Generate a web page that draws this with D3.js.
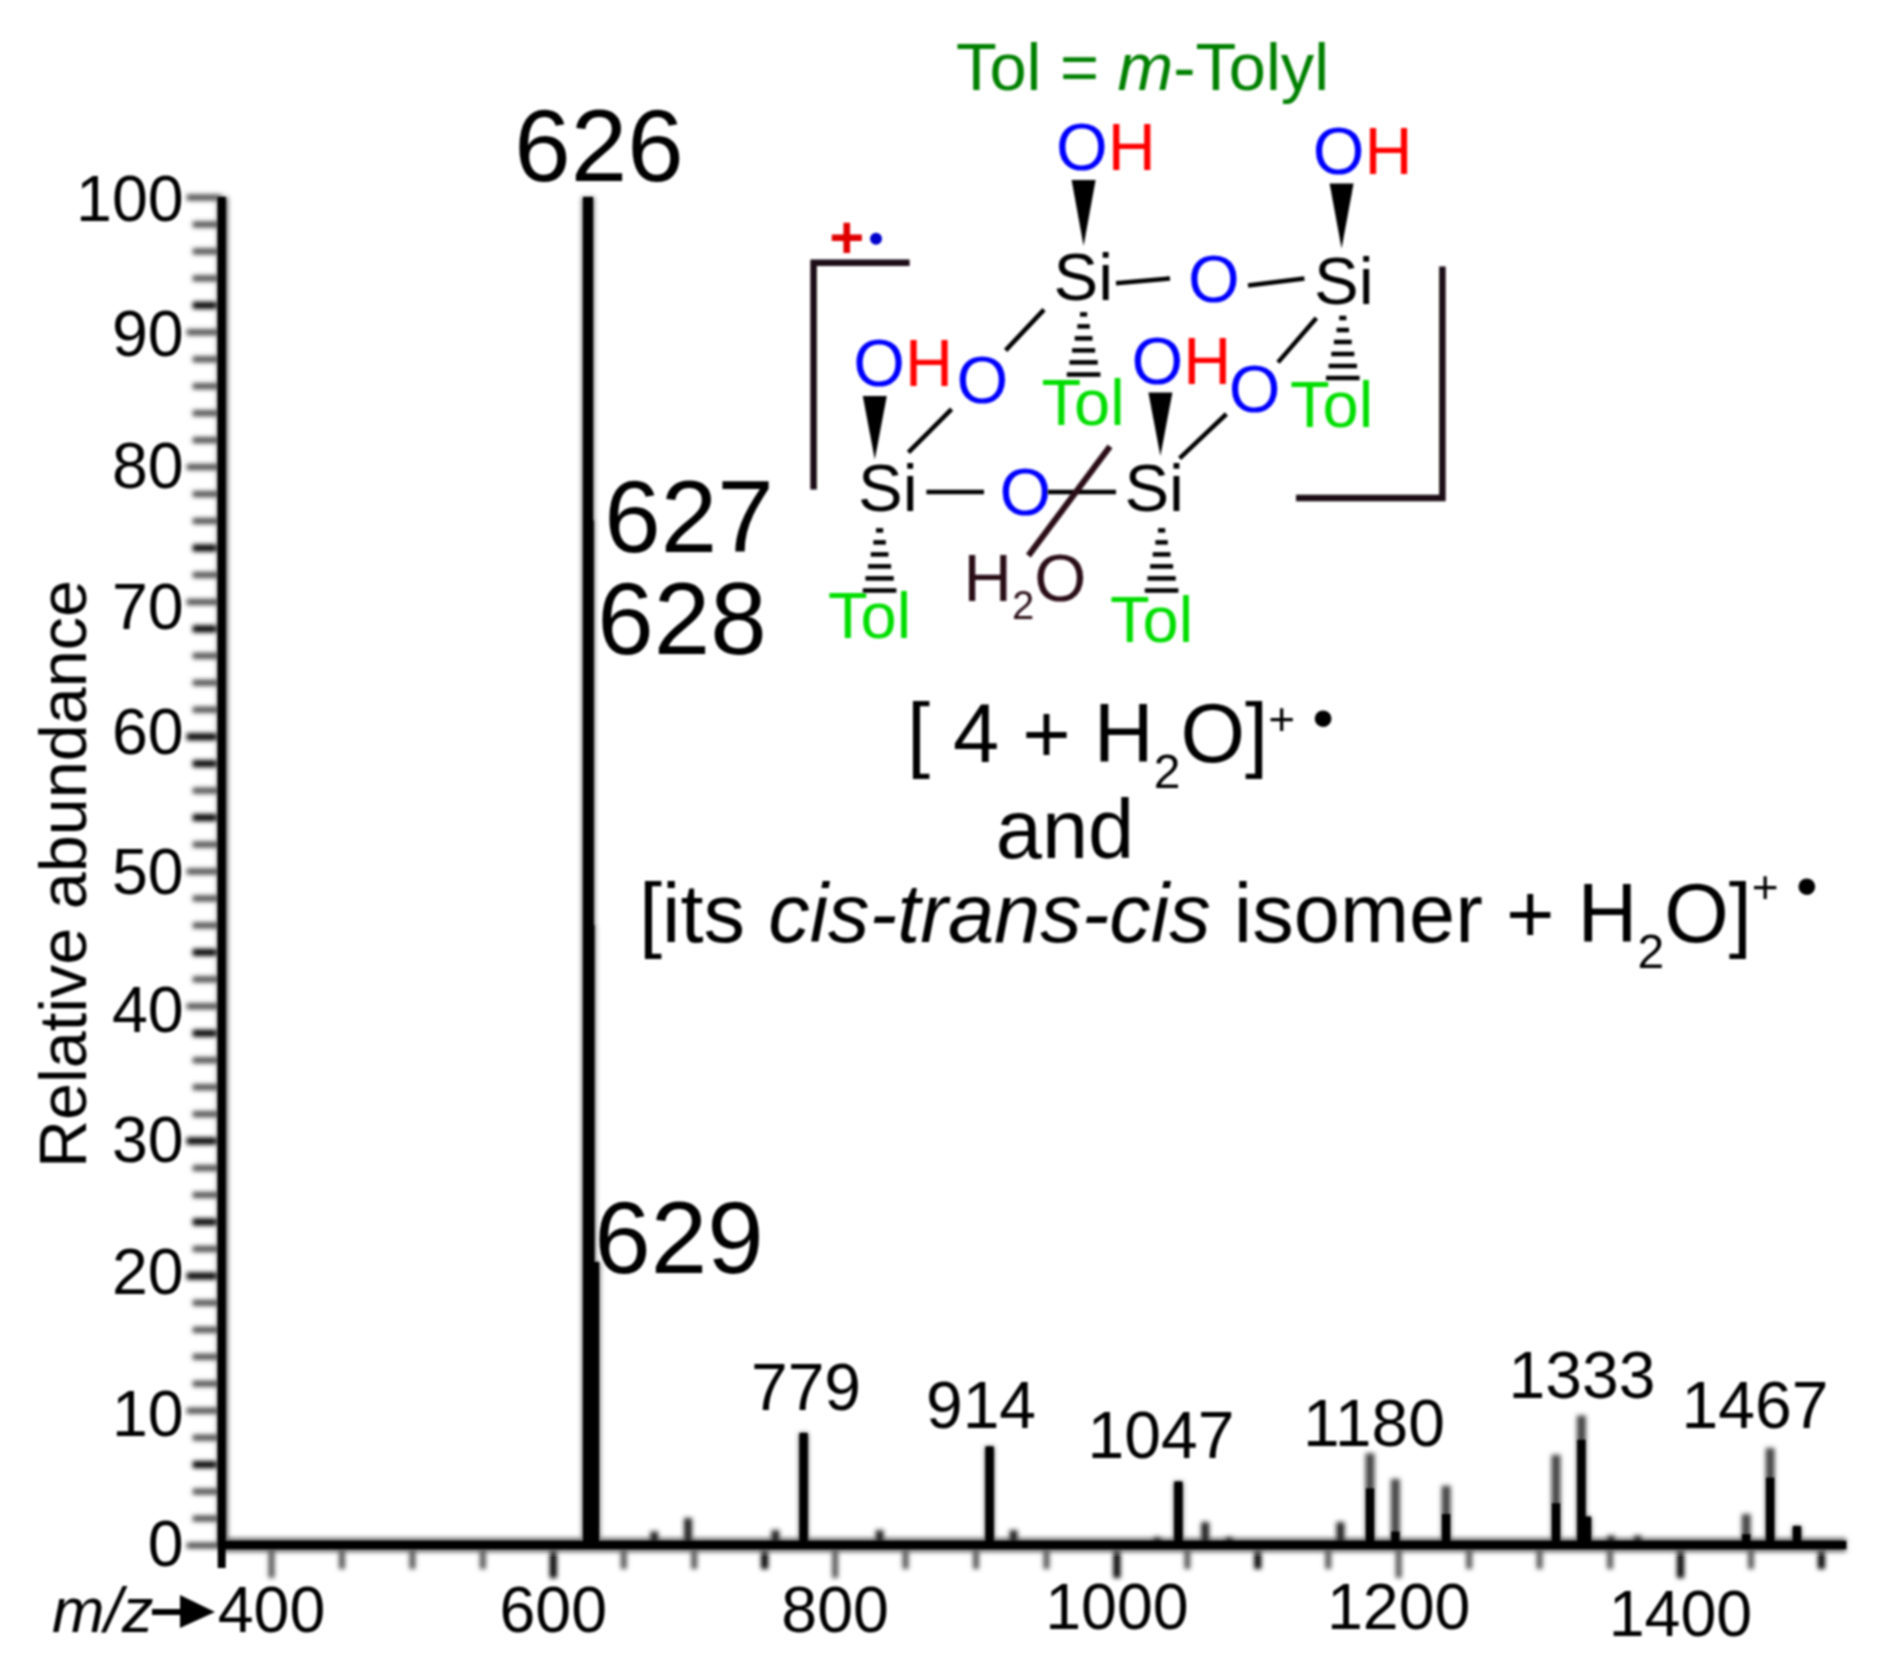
<!DOCTYPE html>
<html>
<head>
<meta charset="utf-8">
<script src="https://cdn.jsdelivr.net/npm/d3@7"></script>
<style>
  html, body { margin: 0; padding: 0; background: #fff; }
  text { font-family: "Liberation Sans", Arial, sans-serif; }
</style>
</head>
<body>
<div id="chart"></div>
<script>
// tick lists
const xMajor = [400, 600, 800, 1000, 1200, 1400];
const xAll = [400, 450, 500, 550, 600, 650, 700, 750, 800, 850, 900, 950, 1000, 1050, 1100, 1150, 1200, 1250, 1300, 1350, 1400, 1450, 1500];
const xDark = [600, 750, 1000, 1100, 1400, 1500];
const yMajor = [0, 10, 20, 30, 40, 50, 60, 70, 80, 90, 100];
const yAll = [0, 2, 4, 6, 8, 10, 12, 14, 16, 18, 20, 22, 24, 26, 28, 30, 32, 34, 36, 38, 40, 42, 44, 46, 48, 50, 52, 54, 56, 58, 60, 62, 64, 66, 68, 70, 72, 74, 76, 78, 80, 82, 84, 86, 88, 90, 92, 94, 96, 98, 100];
const yDark = [6, 20, 24, 30, 38, 44, 54, 58, 60, 68, 74, 92];

// spectrum
const stackMz = [625, 625.5, 626, 627.5];
const stackTop = [100, 76, 46, 21];
const peakMz = [778, 910, 1044, 1180, 1198, 1234, 1312, 1330, 1334, 1447, 1464, 1483];
const peakTop = [8.3, 7.3, 4.7, 6.8, 4.9, 4.4, 6.7, 9.6, 2.1, 2.3, 7.2, 1.4];
const peakDark = [8.3, 7.3, 4.7, 4.2, 1.0, 2.3, 3.1, 7.8, 2.1, 0.8, 5.0, 1.4];
const smallMz = [672, 696, 758, 832, 927, 1029, 1063, 1080, 1159, 1351, 1370];
const smallTop = [1.0, 2.0, 1.1, 1.1, 1.1, 0.6, 1.7, 0.6, 1.7, 0.7, 0.7];

// peak annotations
const peakLabels = ["626", "627", "628", "629", "779", "914", "1047", "1180", "1333", "1467"];

const W = 1882, H = 1675;
const x = d3.scaleLinear().domain([400, 1400]).range([271, 1680]);
const y = d3.scaleLinear().domain([0, 100]).range([1545, 197]);
const xStart = 365, xEnd = 1518;
const axisX = x(xStart);

const svg = d3.select("#chart").append("svg")
  .attr("width", W).attr("height", H).attr("viewBox", [0, 0, W, H])
  .style("display", "block");

const defs = svg.append("defs");
const blur = (id, sd) => defs.append("filter").attr("id", id)
  .attr("filterUnits", "userSpaceOnUse").attr("x", 0).attr("y", 0).attr("width", W).attr("height", H)
  .append("feGaussianBlur").attr("stdDeviation", sd);
blur("soft", 1);
blur("softer", 2.4);

const root = svg.append("g").attr("filter", "url(#soft)");
const axesG = svg.append("g").attr("filter", "url(#softer)");
const marks = svg.append("g").attr("filter", "url(#soft)");

// ticks, blurry grey like the scanned axis, some of them printed darker
const xTicks = axesG.append("g").attr("transform", `translate(0,${y(0)})`)
  .call(d3.axisBottom(x).tickValues(xAll).tickSize(24).tickFormat(""));
xTicks.select(".domain").remove();
xTicks.selectAll("line")
  .attr("stroke", d => xDark.includes(d) ? "#000" : "#555")
  .attr("stroke-width", d => xDark.includes(d) ? 7 : 6)
  .attr("y2", d => xMajor.includes(d) ? 33 : 24);

const yTicks = axesG.append("g").attr("transform", `translate(${axisX},0)`)
  .call(d3.axisLeft(y).tickValues(yAll).tickSize(29).tickFormat(""));
yTicks.select(".domain").remove();
yTicks.selectAll("line")
  .attr("stroke", d => yDark.includes(d) ? "#000" : "#4c4c4c")
  .attr("stroke-width", d => yDark.includes(d) ? 7 : 6)
  .attr("x2", d => yMajor.includes(d) ? -35 : -29);

// axes with labels
const fontSize = 64.5;
const tickDrop = {1000: 84, 1200: 84, 1400: 91};
const xAxis = root.append("g").attr("transform", `translate(0,${y(0)})`)
  .call(d3.axisBottom(x).tickValues(xMajor).tickSize(0).tickFormat(d3.format("d")));
xAxis.select(".domain").remove();
xAxis.selectAll("text").attr("y", d => tickDrop[d] || 87).attr("dy", 0)
  .attr("font-size", fontSize).attr("fill", "#000")
  .style("font-family", '"Liberation Sans", Arial, sans-serif');

const labelNudge = {100: 3, 90: 3, 70: 6, 60: -3, 50: 2, 40: 5, 20: -3, 10: 5};
const yAxis = root.append("g").attr("transform", `translate(${axisX},0)`)
  .call(d3.axisLeft(y).tickValues(yMajor).tickSize(0).tickPadding(38).tickFormat(d3.format("d")));
yAxis.select(".domain").remove();
yAxis.selectAll("text").attr("font-size", fontSize).attr("fill", "#000")
  .attr("y", d => labelNudge[d] || 0)
  .style("font-family", '"Liberation Sans", Arial, sans-serif');

// axis rules
axesG.append("line").attr("x1", axisX).attr("x2", x(xEnd)).attr("y1", y(0)).attr("y2", y(0))
  .attr("stroke", "#666").attr("stroke-width", 14);
marks.append("line").attr("x1", axisX).attr("x2", x(xEnd)).attr("y1", y(0)).attr("y2", y(0))
  .attr("stroke", "#000").attr("stroke-width", 8);
axesG.append("line").attr("x1", axisX + 1).attr("x2", axisX + 1).attr("y1", y(100)).attr("y2", y(0))
  .attr("stroke", "#666").attr("stroke-width", 11);
marks.append("line").attr("x1", axisX).attr("x2", axisX).attr("y1", y(100)).attr("y2", y(0) + 23)
  .attr("stroke", "#000").attr("stroke-width", 8);

// spectrum sticks
axesG.selectAll("line.small").data(smallMz).join("line").attr("class", "small")
  .attr("x1", d => x(d)).attr("x2", d => x(d)).attr("y1", y(0))
  .attr("y2", (d, i) => y(smallTop[i]))
  .attr("stroke", "#222").attr("stroke-width", 8);
axesG.selectAll("line.peakTop").data(peakMz).join("line").attr("class", "peakTop")
  .attr("x1", d => x(d)).attr("x2", d => x(d)).attr("y1", y(0))
  .attr("y2", (d, i) => y(peakTop[i]))
  .attr("stroke", "#444").attr("stroke-width", 9);
marks.selectAll("line.peakDark").data(peakMz).join("line").attr("class", "peakDark")
  .attr("x1", d => x(d)).attr("x2", d => x(d)).attr("y1", y(0))
  .attr("y2", (d, i) => y(peakDark[i]))
  .attr("stroke", "#000").attr("stroke-width", 8);
axesG.selectAll("line.halo").data(stackMz).join("line").attr("class", "halo")
  .attr("x1", d => x(d)).attr("x2", d => x(d)).attr("y1", y(0))
  .attr("y2", (d, i) => y(stackTop[i]))
  .attr("stroke", "#777").attr("stroke-width", (d, i) => i === 3 ? 18 : 13);
marks.selectAll("line.stack").data(stackMz).join("line").attr("class", "stack")
  .attr("x1", d => x(d)).attr("x2", d => x(d)).attr("y1", y(0))
  .attr("y2", (d, i) => y(stackTop[i]))
  .attr("stroke", "#000").attr("stroke-width", (d, i) => i === 3 ? 15 : 10);

// helper: one text node with coloured / shifted runs
function rich(parent, px, py, size, anchor, runs) {
  const t = parent.append("text").attr("x", px).attr("y", py)
    .attr("font-size", size).attr("text-anchor", anchor);
  let shift = 0;
  runs.forEach(r => {
    const want = r.dy || 0;
    const s = t.append("tspan").text(r.t).attr("dy", want - shift);
    shift = want;
    if (r.fill) s.attr("fill", r.fill);
    if (r.italic) s.attr("font-style", "italic");
    if (r.size) s.attr("font-size", r.size);
    if (r.weight) s.attr("font-weight", r.weight);
  });
  return t;
}

// peak labels
const labelPos = [[599, 181, 101.5], [689, 552, 101.5], [682, 654, 101.5], [679, 1273, 101.5],
  [806, 1410, 66], [981, 1428, 66], [1161, 1458, 66], [1374, 1446, 66], [1582, 1398, 66], [1755, 1428, 66]];
peakLabels.forEach((lab, i) => {
  const p = labelPos[i];
  rich(root, p[0], p[1], p[2], "middle", [{t: lab}]);
});

// axis titles
root.append("text").attr("transform", "translate(86,874) rotate(-90)")
  .attr("text-anchor", "middle").attr("font-size", 66.5).text("Relative abundance");
rich(root, 52, 1632, 63, "start", [{t: "m/z", italic: true}]);
marks.append("path").attr("d", "M152 1609H180V1595L215 1612L180 1628V1615H152Z").attr("fill", "#000");

// formula text
const green = "#008000", tol = "#00dd00", blue = "#0000ff", red = "#ff0000", maroon = "#2a0a18";
rich(root, 956, 90, 66.8, "start", [{t: "Tol = ", fill: green}, {t: "m", italic: true, fill: green}, {t: "-Tolyl", fill: green}]);

const captionSize = 83;
rich(root, 907, 762, captionSize, "start", [
  {t: "[ 4 + H"}, {t: "2", size: 48, dy: 26}, {t: "O]"}, {t: "+", size: 46, dy: -27}, {t: " •", size: 62, dy: -23}]);
rich(root, 1065, 858, captionSize, "middle", [{t: "and"}]);
rich(root, 639, 942, captionSize, "start", [
  {t: "[its "}, {t: "cis-trans-cis", italic: true}, {t: " isomer + H"}, {t: "2", size: 48, dy: 26}, {t: "O]"},
  {t: "+", size: 46, dy: -39}, {t: " •", size: 62, dy: -35}]);

// silsesquioxane sketch, points in picture-view units
const s = 1.2;
const bonds = [[930, 236, 975, 232], [1040, 238, 1087, 232], [870, 258, 838, 292], [793, 341, 757, 377],
  [1097, 265, 1065, 302], [1022, 345, 983, 382], [772, 410, 820, 410], [873, 410, 930, 410]];
marks.selectAll("line.bond").data(bonds).join("line").attr("class", "bond")
  .attr("x1", d => d[0] * s).attr("y1", d => d[1] * s).attr("x2", d => d[2] * s).attr("y2", d => d[3] * s)
  .attr("stroke", "#000").attr("stroke-width", 4.5);
marks.append("line").attr("x1", 925 * s).attr("y1", 372 * s).attr("x2", 857 * s).attr("y2", 463 * s)
  .attr("stroke", maroon).attr("stroke-width", 6);

const wedges = [[903, 150, 205], [1118, 153, 207], [729, 330, 383], [967, 327, 380]];
marks.selectAll("path.wedge").data(wedges).join("path").attr("class", "wedge")
  .attr("d", d => `M${(d[0] - 10) * s} ${d[1] * s}L${(d[0] + 10) * s} ${d[1] * s}L${d[0] * s} ${d[2] * s}Z`)
  .attr("fill", "#000");

const hashes = [[903, 262], [1119, 265], [733, 442], [968, 442]];
hashes.forEach(h => {
  [0, 1, 2, 3, 4, 5].forEach(k => {
    const half = 3 + k * 2.2;
    const yy = (h[1] + k * 10) * s;
    marks.append("line").attr("x1", (h[0] - half) * s).attr("x2", (h[0] + half) * s)
      .attr("y1", yy).attr("y2", yy).attr("stroke", "#000").attr("stroke-width", 4.5);
  });
});

const bracket = d3.line();
const brackets = [[[678, 408], [678, 219], [758, 219]], [[1202, 222], [1202, 415], [1080, 415]]];
marks.selectAll("path.bracket").data(brackets).join("path").attr("class", "bracket")
  .attr("d", d => bracket(d.map(p => [p[0] * s, p[1] * s])))
  .attr("fill", "none").attr("stroke", "#1c0a12").attr("stroke-width", 6.5);

const ohAt = [[880, 142], [1094, 145], [711, 322], [943, 320]];
ohAt.forEach(p => rich(root, p[0] * s, p[1] * s, 66.5, "start", [{t: "O", fill: blue}, {t: "H", fill: red}]));
const siAt = [[878, 250], [1095, 253], [715, 426], [937, 426]];
siAt.forEach(p => rich(root, p[0] * s, p[1] * s, 67, "start", [{t: "Si", fill: "#000"}]));
const oAt = [[990, 252], [797, 336], [1024, 343], [833, 429]];
oAt.forEach(p => rich(root, p[0] * s, p[1] * s, 66.5, "start", [{t: "O", fill: blue}]));
const tolAt = [[868, 354], [1075, 356], [690, 532], [925, 535]];
tolAt.forEach(p => rich(root, p[0] * s, p[1] * s, 65, "start", [{t: "Tol", fill: tol}]));
rich(root, 803 * s, 501 * s, 67, "start", [{t: "H", fill: maroon}, {t: "2", size: 40, fill: maroon, dy: 18}, {t: "O", fill: maroon}]);
rich(root, 691 * s, 215 * s, 60, "start", [{t: "+", fill: "#e00000", weight: "bold"}]);
marks.append("circle").attr("cx", 730 * s).attr("cy", 199 * s).attr("r", 6).attr("fill", "#0000cc");
</script>
</body>
</html>
